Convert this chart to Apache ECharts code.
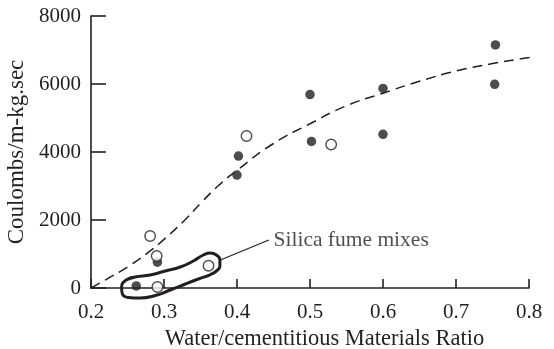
<!DOCTYPE html>
<html>
<head>
<meta charset="utf-8">
<script src="https://cdn.jsdelivr.net/npm/echarts@6/dist/echarts.min.js"></script>
<style>html,body{margin:0;padding:0;background:#fff;}#c{width:554px;height:349px;}</style>
</head>
<body>
<div id="c"></div>
<script>
// Data
var filledX = [0.262, 0.291, 0.400, 0.402, 0.500, 0.502, 0.600, 0.600, 0.754, 0.753];
var filledY = [60, 760, 3320, 3880, 5690, 4310, 5870, 4520, 7150, 5990];
var openX = [0.413, 0.529, 0.281, 0.290, 0.291, 0.361];
var openY = [4470, 4220, 1530, 940, 30, 655];
var curveX = [0.200, 0.220, 0.250, 0.275, 0.300, 0.330, 0.350, 0.375, 0.400, 0.450, 0.500, 0.550, 0.600, 0.650, 0.700, 0.750, 0.800, 0.835];
var curveY = [0, 240, 620, 990, 1430, 2030, 2490, 3020, 3460, 4250, 4830, 5360, 5730, 6080, 6380, 6600, 6780, 6900];
var loopX = [0.2481, 0.2605, 0.2811, 0.3017, 0.3223, 0.3402, 0.3540, 0.3636, 0.3718, 0.3766, 0.3766, 0.3718, 0.3622, 0.3471, 0.3292, 0.3086, 0.2880, 0.2674, 0.2509, 0.2426, 0.2419, 0.2481, 0.2605];
var loopY = [235, 324, 382, 500, 618, 794, 971, 1029, 971, 824, 647, 500, 382, 265, 118, -59, -221, -294, -279, -147, 29, 235, 324];
var leaderX = [0.3773, 0.4437];
var leaderY = [824, 1412];
var noteText = 'Silica fume mixes';
var noteX = 0.4500, noteY = 1412;
var xTicks = ['0.2', '0.3', '0.4', '0.5', '0.6', '0.7', '0.8'];
var yTicks = ['0', '2000', '4000', '6000', '8000'];
var xTitle = 'Water/cementitious Materials Ratio';
var yTitle = 'Coulombs/m-kg.sec';

function zip(a, b) { return a.map(function (v, i) { return [v, b[i]]; }); }

var ink = '#231f20';
var font = 'Liberation Serif';
var chart = echarts.init(document.getElementById('c'), null, {renderer: 'canvas'});
chart.setOption({
  animation: false,
  backgroundColor: '#fff',
  grid: {left: 91, top: 16, right: 25, bottom: 61, containLabel: false, outerBoundsMode: 'none'},
  xAxis: {
    type: 'value', min: 0.2, max: 0.8, interval: 0.1,
    name: xTitle, nameLocation: 'middle', nameGap: 38,
    nameTextStyle: {fontFamily: font, fontSize: 22.5, color: ink, padding: [0, 0, 0, 29]},
    axisLine: {lineStyle: {color: ink, width: 1.6}},
    axisTick: {inside: true, length: 9, lineStyle: {color: ink, width: 1.6}},
    axisLabel: {fontFamily: font, fontSize: 21, color: ink, margin: 14,
      formatter: function (v) { return xTicks[Math.round((v - 0.2) * 10)]; }},
    splitLine: {show: false}
  },
  yAxis: {
    type: 'value', min: 0, max: 8000, interval: 2000,
    name: yTitle, nameLocation: 'middle', nameGap: 60, nameRotate: 90,
    nameTextStyle: {fontFamily: font, fontSize: 23, color: ink, padding: [0, 0, 0, 0]},
    axisLine: {show: true, lineStyle: {color: ink, width: 1.6}},
    axisTick: {show: true, inside: true, length: 15, lineStyle: {color: ink, width: 1.6}},
    axisLabel: {fontFamily: font, fontSize: 21, color: ink, margin: 10,
      formatter: function (v) { return yTicks[Math.round(v / 2000)]; }},
    splitLine: {show: false}
  },
  series: [
    {type: 'line', data: zip(curveX, curveY), smooth: true, symbol: 'none', clip: false,
      lineStyle: {color: ink, width: 1.5, type: [10, 6]}, z: 2},
    {type: 'line', data: zip(loopX, loopY), smooth: 0.5, symbol: 'none', clip: false,
      lineStyle: {color: ink, width: 3}, z: 3},
    {type: 'line', data: zip(leaderX, leaderY), symbol: 'none', clip: false,
      lineStyle: {color: ink, width: 1.2}, z: 3},
    {type: 'scatter', data: [[noteX, noteY]], symbolSize: 0, clip: false,
      label: {show: true, position: 'right', distance: 0, formatter: noteText,
        fontFamily: font, fontSize: 21.5, color: ink}, z: 4},
    {type: 'scatter', data: zip(filledX, filledY), symbol: 'circle', symbolSize: 9.5, clip: false,
      itemStyle: {color: ink}, z: 5},
    {type: 'scatter', data: zip(openX, openY), symbol: 'circle', symbolSize: 10.5, clip: false,
      itemStyle: {color: '#fff', borderColor: ink, borderWidth: 1.4}, z: 5}
  ]
});
</script>
</body>
</html>
